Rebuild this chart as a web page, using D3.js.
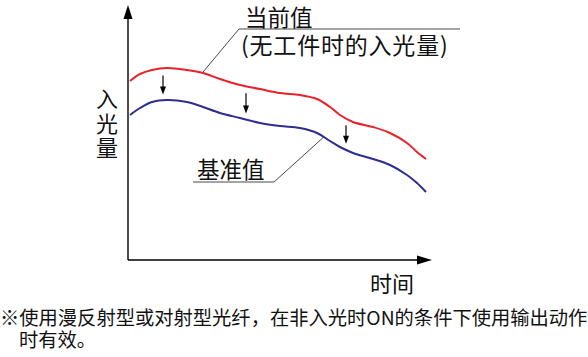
<!DOCTYPE html>
<html><head><meta charset="utf-8">
<script src="https://cdn.jsdelivr.net/npm/d3@7"></script>
<style>
html,body{margin:0;padding:0;background:#fff;}
svg{display:block;}
text{font-family:"Noto Sans CJK SC","Noto Sans",sans-serif;fill:#111;}
</style></head><body>
<svg id="c" width="588" height="357"></svg>
<script>
// time (arbitrary units) and light intensity (arbitrary units)
const times    = [2, 12, 24, 39, 59, 75, 92, 112, 132, 152, 172, 189, 202, 212, 225, 245, 262, 279, 289, 298];
const current  = [179, 186, 190, 192, 190, 187, 181, 175, 171, 167, 165, 161, 153, 145, 138, 133, 127, 117, 108, 101];
const baseline = [145, 152, 158, 160, 158, 153, 147, 142, 137, 134, 132, 127, 119, 113, 107, 101, 95, 85, 77, 68];
const arrowTimes = [35, 118, 218];
const labels = {current:["当前值","(无工件时的入光量)"], base:"基准值", yAxis:["入","光","量"], xAxis:"时间"};
const note = ["※使用漫反射型或对射型光纤，在非入光时ON的条件下使用输出动作","时有效。"];

const svg = d3.select("#c");
const x = d3.scaleLinear().domain([0, 304]).range([128, 432]);
const y = d3.scaleLinear().domain([0, 255]).range([260, 5]);

// axes
const ax = svg.append("g").attr("stroke","#000").attr("stroke-width",1.4);
ax.append("line").attr("x1",x(0)).attr("y1",y(0)).attr("x2",x(0)).attr("y2",y(242));
ax.append("line").attr("x1",x(0)).attr("y1",y(0)).attr("x2",x(292)).attr("y2",y(0));
svg.append("path").attr("fill","#000")
  .attr("d",`M${x(0)},${y(255)} L${x(0)-4.5},${y(241)} L${x(0)+4.5},${y(241)} Z`);
svg.append("path").attr("fill","#000")
  .attr("d",`M${x(304)},${y(0)} L${x(289)},${y(0)-4.5} L${x(289)},${y(0)+4.5} Z`);

const line = d3.line().x((d,i)=>x(times[i])).y(d=>y(d)).curve(d3.curveCatmullRom.alpha(0.5));
svg.append("path").datum(current).attr("d",line).attr("fill","none").attr("stroke","#e8222b").attr("stroke-width",2);
svg.append("path").datum(baseline).attr("d",line).attr("fill","none").attr("stroke","#2d2e8f").attr("stroke-width",2);

function interp(arr, t){
  for(let i=0;i<times.length-1;i++){
    if(t>=times[i] && t<=times[i+1]){
      const f=(t-times[i])/(times[i+1]-times[i]);
      return arr[i]+(arr[i+1]-arr[i])*f;
    }
  }
  return arr[arr.length-1];
}
// down arrows
arrowTimes.forEach(t=>{
  const xa=x(t), y1=y(interp(current,t))+7, y2=y(interp(baseline,t))-6;
  svg.append("line").attr("x1",xa).attr("x2",xa).attr("y1",y1).attr("y2",y2-6)
    .attr("stroke","#000").attr("stroke-width",1.2);
  svg.append("path").attr("fill","#000")
    .attr("d",`M${xa},${y2} L${xa-3},${y2-8} L${xa+3},${y2-8} Z`);
});

// leader lines
const cT = 75, bT = 195;
svg.append("polyline").attr("fill","none").attr("stroke","#333").attr("stroke-width",0.9)
  .attr("points",`${x(cT)},${y(interp(current,cT))-1} 239,29 460,29`);
svg.append("polyline").attr("fill","none").attr("stroke","#333").attr("stroke-width",0.9)
  .attr("points",`${x(bT)},${y(interp(baseline,bT))+1} 274,182 193,182`);

// texts
function T(s,xx,yy,size,anchor){
  return svg.append("text").attr("x",xx).attr("y",yy).attr("font-size",size)
    .attr("dominant-baseline","central").attr("text-anchor",anchor||"start").text(s);
}
T(labels.current[0],245,16,22.5);
T(labels.current[1],241,44,23).attr("letter-spacing",0.8);
T(labels.base,197,168,22.5);
labels.yAxis.forEach((s,i)=>T(s,107,97+i*24.5,22,"middle"));
T(labels.xAxis,370,282,22);
T(note[0],0,317,19.3);
T(note[1],19,339,19.3);
</script>
</body></html>
